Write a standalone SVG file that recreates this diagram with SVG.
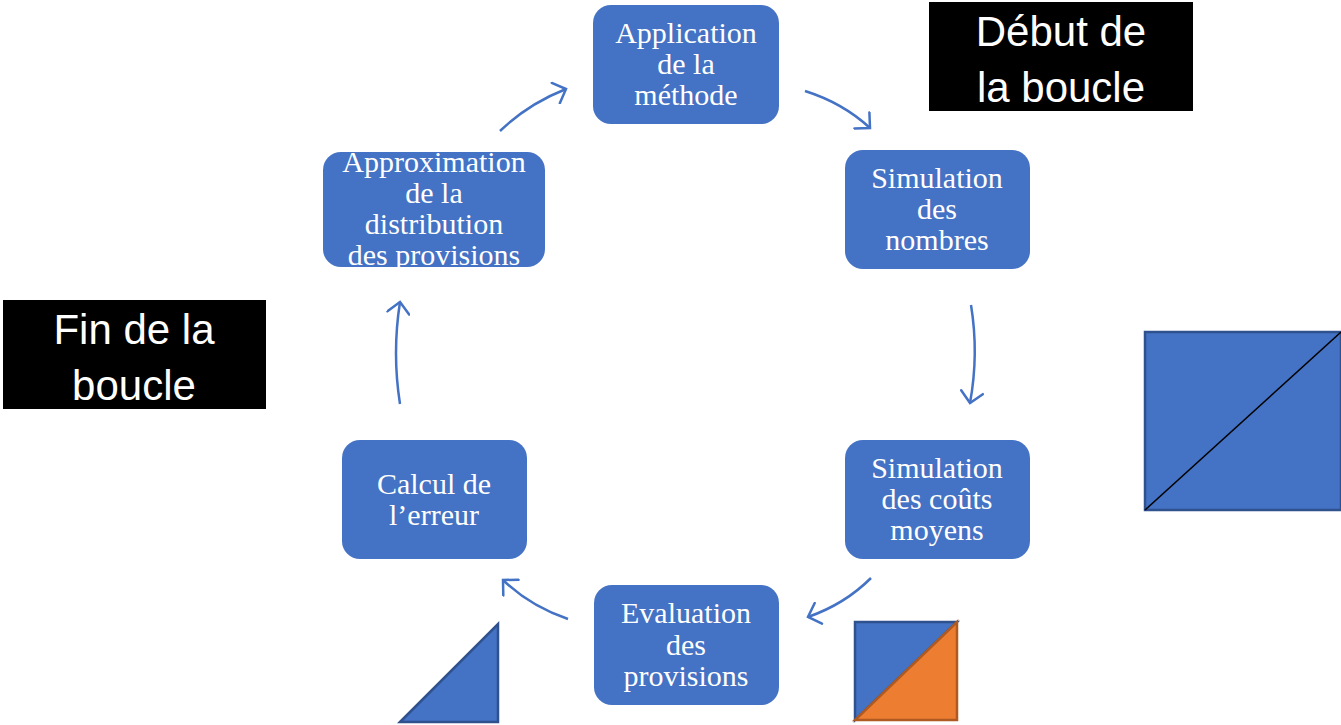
<svg xmlns="http://www.w3.org/2000/svg" width="1341" height="725" viewBox="0 0 1341 725">
<style>
.node{fill:#4472C4;}
.nt{font-family:"Liberation Serif","DejaVu Serif",serif;font-size:30px;fill:#fff;text-anchor:middle;dominant-baseline:central;}
.bt{font-family:"Liberation Sans","Open Sans",sans-serif;font-size:42px;fill:#fff;text-anchor:middle;dominant-baseline:central;}
.conn{fill:none;stroke:#4472C4;stroke-width:2.5;marker-end:url(#ah);}
.shape{fill:#4472C4;stroke:#2F528F;stroke-width:2.5;}
</style>
<defs>
<marker id="ah" viewBox="0 0 18 24" refX="15" refY="12" markerWidth="18" markerHeight="24" markerUnits="userSpaceOnUse" orient="auto">
<path d="M4,1 L15,12 L4,23" fill="none" stroke="#4472C4" stroke-width="2.5" stroke-linecap="round"/>
</marker>
</defs>
<rect width="1341" height="725" fill="#fff"/>

<g id="connectors">
<path class="conn" d="M500,131 Q528,104 566,89"/>
<path class="conn" d="M805,91 Q843,103 870,128"/>
<path class="conn" d="M971,305 Q979,354 970,403"/>
<path class="conn" d="M871,578 Q845,604 808,617"/>
<path class="conn" d="M568,619 Q530,606 503,580"/>
<path class="conn" d="M400,404 Q392,353 400,302"/>
</g>

<g id="application">
<rect class="node" x="593" y="5" width="186" height="119" rx="18"/>
<text class="nt" x="686" y="32">Application</text>
<text class="nt" x="686" y="63">de la</text>
<text class="nt" x="686" y="94">méthode</text>
</g>

<g id="simulation-nombres">
<rect class="node" x="845" y="150" width="185" height="119" rx="18"/>
<text class="nt" x="937" y="177">Simulation</text>
<text class="nt" x="937" y="208">des</text>
<text class="nt" x="937" y="239">nombres</text>
</g>

<g id="simulation-couts">
<rect class="node" x="845" y="440" width="185" height="119" rx="18"/>
<text class="nt" x="937" y="467">Simulation</text>
<text class="nt" x="937" y="498">des coûts</text>
<text class="nt" x="937" y="529">moyens</text>
</g>

<g id="evaluation">
<rect class="node" x="594" y="585" width="185" height="120" rx="18"/>
<text class="nt" x="686" y="612">Evaluation</text>
<text class="nt" x="686" y="644">des</text>
<text class="nt" x="686" y="675">provisions</text>
</g>

<g id="calcul">
<rect class="node" x="342" y="440" width="185" height="119" rx="18"/>
<text class="nt" x="434" y="483">Calcul de</text>
<text class="nt" x="434" y="514">l’erreur</text>
</g>

<g id="approximation">
<rect class="node" x="323" y="152" width="222" height="115" rx="18"/>
<text class="nt" x="434" y="161">Approximation</text>
<text class="nt" x="434" y="192">de la</text>
<text class="nt" x="434" y="223">distribution</text>
<text class="nt" x="434" y="254">des provisions</text>
</g>

<g id="debut">
<rect x="929" y="2" width="264" height="109" fill="#000"/>
<text class="bt" x="1061" y="31">Début de</text>
<text class="bt" x="1061" y="87">la boucle</text>
</g>

<g id="fin">
<rect x="3" y="300" width="263" height="109" fill="#000"/>
<text class="bt" x="134" y="329">Fin de la</text>
<text class="bt" x="134" y="385">boucle</text>
</g>

<g id="square-right">
<rect class="shape" x="1145" y="332" width="196" height="178"/>
<line x1="1145" y1="510" x2="1341" y2="332" stroke="#000" stroke-width="1.5"/>
</g>

<g id="square-bicolor">
<polygon points="855,622 957,622 855,720" class="shape"/>
<polygon points="957,622 957,720 855,720" fill="#ED7D31" stroke="#AE5A21" stroke-width="2.5"/>
</g>

<g id="triangle">
<polygon points="400,722 498,624 498,722" class="shape"/>
</g>
</svg>
